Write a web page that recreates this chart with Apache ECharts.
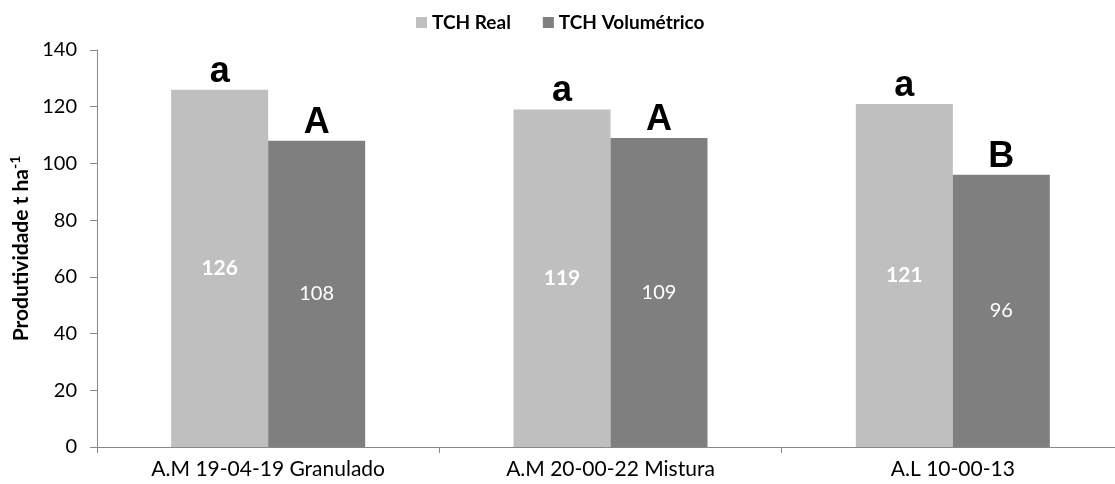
<!DOCTYPE html>
<html>
<head>
<meta charset="utf-8">
<script src="https://cdn.jsdelivr.net/npm/echarts@6/dist/echarts.min.js"></script>
<style>html,body{margin:0;padding:0;background:#fff}#c{width:1115px;height:484px}</style>
</head>
<body>
<div id="c"></div>
<script>
var categories = ['A.M 19-04-19 Granulado', 'A.M 20-00-22 Mistura', 'A.L 10-00-13'];
var tchReal = [126, 119, 121];
var tchVol = [108, 109, 96];
var lettersReal = ['a', 'a', 'a'];
var lettersVol = ['A', 'A', 'B'];
var yTicks = [0, 20, 40, 60, 80, 100, 120, 140];

var chart = echarts.init(document.getElementById('c'));
var letterLabel = function (arr) {
  return {
    show: true, position: 'top', distance: 0,
    fontFamily: 'Liberation Sans', fontWeight: 'bold', fontSize: 36, color: '#000',
    formatter: function (p) { return arr[p.dataIndex]; }
  };
};
chart.setOption({
  animation: false,
  legend: {
    top: 8, left: 411, itemWidth: 11, itemHeight: 11, itemGap: 32,
    icon: 'rect',
    data: ['TCH Real', 'TCH Volumétrico'],
    textStyle: { fontFamily: 'Lato', fontWeight: 'bold', fontSize: 19, color: '#000' }
  },
  grid: { left: 97, top: 50, bottom: 37, width: 1027, outerBoundsMode: 'none', containLabel: false },
  xAxis: {
    type: 'category', data: categories,
    axisLine: { lineStyle: { color: '#888', width: 1 } },
    axisTick: { show: true, length: 6, lineStyle: { color: '#888' } },
    axisLabel: { fontFamily: 'Lato', fontSize: 21, color: '#000', margin: 12 }
  },
  yAxis: {
    type: 'value', min: 0, max: 140, interval: 20,
    name: 'Produtividade t ha{sup|-1}',
    nameLocation: 'middle', nameGap: 63, nameRotate: 90,
    nameTextStyle: {
      fontFamily: 'Lato', fontWeight: 'bold', fontSize: 21, color: '#000',
      rich: { sup: { fontFamily: 'Lato', fontWeight: 'bold', fontSize: 14, color: '#000', verticalAlign: 'top', padding: [0, 0, 10, 0] } }
    },
    axisLine: { show: true, lineStyle: { color: '#888', width: 1 } },
    axisTick: { show: true, length: 7, lineStyle: { color: '#888' } },
    splitLine: { show: false },
    axisLabel: {
      fontFamily: 'Lato', fontSize: 20, color: '#000', margin: 20,
      formatter: function (v) { return yTicks.indexOf(v) >= 0 ? String(v) : ''; }
    }
  },
  series: [
    {
      name: 'TCH Real', type: 'bar', stack: 'r', data: tchReal,
      barWidth: 97, barGap: '0%',
      itemStyle: { color: '#bfbfbf' },
      label: { show: true, position: 'inside', fontFamily: 'Lato', fontWeight: 'bold', fontSize: 21, color: '#fff' }
    },
    {
      name: 'TCH Volumétrico', type: 'bar', stack: 'v', data: tchVol,
      barWidth: 97, barGap: '0%',
      itemStyle: { color: '#7f7f7f' },
      label: { show: true, position: 'inside', fontFamily: 'Lato', fontSize: 20, color: '#fff' }
    },
    {
      name: 'lr', type: 'bar', stack: 'r', data: [0, 0, 0], barWidth: 97,
      itemStyle: { color: 'transparent' }, label: letterLabel(lettersReal), silent: true
    },
    {
      name: 'lv', type: 'bar', stack: 'v', data: [0, 0, 0], barWidth: 97,
      itemStyle: { color: 'transparent' }, label: letterLabel(lettersVol), silent: true
    }
  ]
});
</script>
</body>
</html>
